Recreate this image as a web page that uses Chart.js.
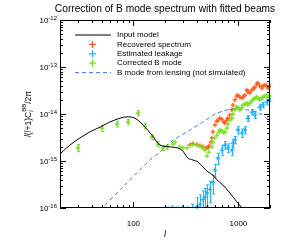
<!DOCTYPE html>
<html>
<head>
<meta charset="utf-8">
<script src="https://cdn.jsdelivr.net/npm/chart.js@4.4.0/dist/chart.umd.min.js"></script>
<style>
html, body { margin: 0; padding: 0; background: #fff; }
#wrap { width: 288px; height: 249px; }
</style>
</head>
<body>
<div id="wrap"><canvas id="chart" width="288" height="249"></canvas></div>
<script>
// Values (multipole l, l(l+1)C_l/2pi)
const modelL = [20, 24.9, 31, 38.6, 48.1, 59.8, 74.5, 86.3, 103.6, 123.4, 150.3, 179.1, 223.2, 290.2,
    331.2, 369.6, 412.2, 460.1, 513, 571.7, 624.3, 711.6, 829.4, 967.3, 1080, 1178];
const modelCl = [1.41e-15, 2.19e-15, 3.09e-15, 4.17e-15, 5.25e-15, 6.76e-15, 8.13e-15, 8.71e-15, 8.13e-15,
    5.89e-15, 3.55e-15, 2.19e-15, 2.0e-15, 1.70e-15, 1.15e-15, 1.05e-15, 9.55e-16, 7.41e-16, 5.89e-16,
    5.01e-16, 3.98e-16, 3.09e-16, 2.09e-16, 1.35e-16, 1.0e-16, 7.1e-17];

const lensL = [43.1, 50.3, 79.6, 143.8, 179.1, 213.6, 249.1, 346.1, 460.1, 597.5, 711.6, 967.3, 1204, 1499, 1790, 2000];
const lensCl = [7.1e-17, 1.0e-16, 2.82e-16, 1.05e-15, 1.55e-15, 2.29e-15, 2.95e-15, 4.57e-15, 6.76e-15,
    1.0e-14, 1.15e-14, 1.35e-14, 1.23e-14, 1.10e-14, 8.71e-15, 6.76e-15];

// binned corrected spectrum at low l (with error bars)
const binL = [29.6, 50.3, 69.8, 88.9, 110.6, 128.9, 150.3, 171.4, 191.4, 208.9];
const binCl = [1.91e-15, 5.01e-15, 6.17e-15, 6.76e-15, 1.05e-14, 5.50e-15, 3.24e-15, 2.29e-15, 1.91e-15, 2.0e-15];
const binErr = [3.2e-16, 7.5e-16, 8.5e-16, 9e-16, 1.3e-15, 7e-16, 4e-16, 2.8e-16, 2.2e-16, 2.2e-16];

const corrL = [238.5, 249.1, 277.7, 296.6, 324.1, 346.1, 369.6, 403.4, 430.8, 460.1, 480.7, 502, 524.2,
    559.5, 571.7, 597.5, 624.3, 652, 666.3, 696.3, 727.2, 743.1, 776.6, 793.6, 829.4, 866.7, 885.7,
    925.6, 967.3, 988.5, 1033, 1080, 1103, 1152, 1204, 1231, 1286, 1344, 1404, 1435, 1499, 1532,
    1600, 1672, 1715, 1790, 1871, 1913, 2000];
const corrCl = [2.29e-15, 2.51e-15, 2.0e-15, 1.91e-15, 1.91e-15, 2.14e-15, 2.24e-15, 2.14e-15, 2.04e-15,
    1.91e-15, 1.70e-15, 1.29e-15, 1.55e-15, 2.0e-15, 2.51e-15, 3.09e-15, 3.55e-15, 4.17e-15, 4.57e-15,
    4.37e-15, 3.98e-15, 4.17e-15, 5.01e-15, 6.17e-15, 7.41e-15, 8.13e-15, 1.0e-14, 1.23e-14, 1.41e-14,
    1.35e-14, 1.23e-14, 1.35e-14, 1.55e-14, 1.62e-14, 1.70e-14, 1.55e-14, 1.70e-14, 1.91e-14, 2.09e-14,
    2.19e-14, 2.29e-14, 2.19e-14, 2.0e-14, 2.19e-14, 2.29e-14, 2.40e-14, 2.51e-14, 2.29e-14, 2.40e-14];

const recL = [346.1, 369.6, 403.4, 430.8, 460.1, 491.3, 513, 524.2, 547.5, 559.5, 571.7, 597.5, 624.3,
    638, 666.3, 696.3, 727.2, 743.1, 776.6, 793.6, 829.4, 866.7, 885.7, 925.6, 967.3, 988.5, 1033,
    1080, 1128, 1152, 1204, 1231, 1286, 1344, 1404, 1435, 1499, 1532, 1600, 1672, 1715, 1790, 1871, 1913, 2000];
const recCl = [2.24e-15, 2.34e-15, 2.24e-15, 2.14e-15, 2.0e-15, 1.91e-15, 1.91e-15, 2.09e-15, 2.51e-15,
    3.09e-15, 4.17e-15, 5.89e-15, 7.08e-15, 7.41e-15, 8.13e-15, 7.76e-15, 6.76e-15, 6.46e-15, 7.41e-15,
    8.13e-15, 9.55e-15, 1.23e-14, 1.55e-14, 2.0e-14, 2.40e-14, 2.51e-14, 2.29e-14, 2.19e-14, 2.40e-14,
    2.51e-14, 3.24e-14, 2.95e-14, 2.82e-14, 3.24e-14, 3.55e-14, 3.72e-14, 4.37e-14, 4.57e-14, 3.98e-14,
    3.55e-14, 3.98e-14, 4.17e-14, 3.98e-14, 3.55e-14, 3.98e-14];

const leakL = [208.9, 233, 260, 290, 324, 362, 403.4, 430.8, 460.1, 480.7, 502, 535.7, 571.7, 597.5,
    638, 696.3, 743.1, 793.6, 866.7, 885.7, 925.6, 988.5, 1080, 1152, 1231, 1344, 1435, 1600, 1715, 1871, 2000];
const leakCl = [7e-17, 7.5e-17, 6.5e-17, 7.5e-17, 7e-17, 8e-17, 1.05e-16, 1.2e-16, 1.5e-16, 1.7e-16,
    2.1e-16, 2.5e-16, 3.5e-16, 6.5e-16, 1.15e-15, 1.7e-15, 2.19e-15, 1.91e-15, 1.70e-15, 2.40e-15,
    2.82e-15, 4.57e-15, 3.98e-15, 4.57e-15, 8.13e-15, 1.10e-14, 9.55e-15, 1.41e-14, 1.55e-14, 1.82e-14, 2.0e-14];
const leakErr = [3.5e-17, 3.5e-17, 4e-17, 3.5e-17, 3.5e-17, 4e-17, 6e-17, 7e-17, 8e-17, 9e-17, 1.0e-16, 1.2e-16,
    1.5e-16, 2e-16, 3e-16, 4e-16, 4e-16, 4e-16, 4e-16, 5e-16, 5e-16, 8e-16, 8e-16, 8e-16, 1.2e-15,
    1.5e-15, 1.5e-15, 2e-15, 2e-15, 2.5e-15, 2.5e-15];

const xTickLabels = ['100', '1000'];
const yTickExp = ['-12', '-13', '-14', '-15', '-16'];

const COLORS = {
    model: '#000000',
    rec: '#ff5a14',
    leak: '#1eb4ff',
    corr: '#78e01e',
    lens: '#3c78ff'
};
const FONT = "'Liberation Sans', Arial, sans-serif";

function pts(ls, vs) {
    return ls.map((l, i) => ({ x: l, y: vs[i] }));
}

/**
 * Error bars drawn through the chart scales
 */
const errorBars = {
    id: 'errorBars',
    beforeDatasetsDraw(chart) {
        const ctx = chart.ctx;
        const xs = chart.scales.x, ys = chart.scales.y;
        const area = chart.chartArea;
        ctx.save();
        ctx.beginPath();
        ctx.rect(area.left, area.top, area.right - area.left, area.bottom - area.top);
        ctx.clip();
        chart.data.datasets.forEach(ds => {
            if (!ds.errors) return;
            ctx.strokeStyle = ds.borderColor;
            ctx.lineWidth = 1;
            ds.data.forEach((p, i) => {
                const e = ds.errors[i];
                if (!e) return;
                const px = Math.round(xs.getPixelForValue(p.x)) + 0.5;
                const lo = p.y - e > 0 ? ys.getPixelForValue(p.y - e) : area.bottom + 5;
                const hi = ys.getPixelForValue(p.y + e);
                ctx.beginPath();
                ctx.moveTo(px, lo);
                ctx.lineTo(px, hi);
                ctx.moveTo(px - 1.5, lo);
                ctx.lineTo(px + 1.5, lo);
                ctx.moveTo(px - 1.5, hi);
                ctx.lineTo(px + 1.5, hi);
                ctx.stroke();
            });
        });
        ctx.restore();
    }
};

/**
 * Frame, inward ticks, tick labels, titles and legend
 */
const frame = {
    id: 'frame',
    afterDraw(chart) {
        const ctx = chart.ctx;
        const xs = chart.scales.x, ys = chart.scales.y;
        const a = chart.chartArea;
        ctx.save();
        ctx.strokeStyle = '#000';
        ctx.lineWidth = 1;
        ctx.strokeRect(a.left + 0.5, a.top + 0.5, a.right - a.left - 1, a.bottom - a.top - 1);

        ctx.beginPath();
        // x ticks
        for (let dec = 10; dec <= 1000; dec *= 10) {
            for (let m = 1; m <= 9; m++) {
                const v = dec * m;
                if (v < 20 || v > 2000) continue;
                const px = Math.round(xs.getPixelForValue(v)) + 0.5;
                const len = m === 1 ? 6 : 3;
                ctx.moveTo(px, a.bottom); ctx.lineTo(px, a.bottom - len);
                ctx.moveTo(px, a.top); ctx.lineTo(px, a.top + len);
            }
        }
        // y ticks
        for (let e = -16; e <= -13; e++) {
            for (let m = 1; m <= 9; m++) {
                const v = m * Math.pow(10, e);
                const py = Math.round(ys.getPixelForValue(v)) + 0.5;
                const len = m === 1 ? 6 : 3;
                ctx.moveTo(a.left, py); ctx.lineTo(a.left + len, py);
                ctx.moveTo(a.right, py); ctx.lineTo(a.right - len, py);
            }
        }
        ctx.stroke();

        ctx.fillStyle = '#000';
        // x tick labels
        ctx.font = '8px ' + FONT;
        ctx.textAlign = 'center';
        ctx.textBaseline = 'alphabetic';
        xTickLabels.forEach(t => {
            ctx.fillText(t, xs.getPixelForValue(Number(t)), a.bottom + 18);
        });
        // y tick labels with exponents
        yTickExp.forEach(t => {
            const py = ys.getPixelForValue(Math.pow(10, Number(t)));
            ctx.font = '6px ' + FONT;
            const w2 = ctx.measureText(t).width;
            ctx.textAlign = 'left';
            ctx.fillText(t, a.left - 3 - w2, py + 0);
            ctx.font = '8px ' + FONT;
            const w1 = ctx.measureText('10').width;
            ctx.fillText('10', a.left - 3 - w2 - w1, py + 3);
        });

        // title
        ctx.font = '10.2px ' + FONT;
        ctx.textAlign = 'center';
        ctx.fillText('Correction of B mode spectrum with fitted beams', (a.left + a.right) / 2, 12);

        // x title
        ctx.font = 'italic 9px ' + FONT;
        ctx.fillText('l', (a.left + a.right) / 2, a.bottom + 29);

        // y title, rotated
        const parts = [
            { t: 'l', f: 'italic 8.5px ' }, { t: '(', f: '8.5px ' }, { t: 'l', f: 'italic 8.5px ' },
            { t: '+1)C', f: '8.5px ' }, { t: 'l', f: 'italic 6px ', sub: true, pair: 'BB' }, { t: '/2\u03c0', f: '8.5px ' }
        ];
        ctx.save();
        ctx.translate(31, (a.top + a.bottom) / 2);
        ctx.rotate(-Math.PI / 2);
        ctx.textAlign = 'left';
        let total = 0;
        parts.forEach(p => {
            ctx.font = p.f + FONT;
            let w = ctx.measureText(p.t).width;
            if (p.pair) { ctx.font = '6px ' + FONT; w = Math.max(w, ctx.measureText(p.pair).width); }
            p.w = w;
            total += w;
        });
        let cx = -total / 2;
        parts.forEach(p => {
            ctx.font = p.f + FONT;
            if (p.sub) {
                ctx.fillText(p.t, cx, 2);
                ctx.font = '6px ' + FONT;
                ctx.fillText(p.pair, cx, -5);
            } else {
                ctx.fillText(p.t, cx, 0);
            }
            cx += p.w;
        });
        ctx.restore();

        // legend
        const rows = [
            { label: 'Input model', kind: 'line', color: COLORS.model },
            { label: 'Recovered spectrum', kind: 'cross', color: COLORS.rec },
            { label: 'Estimated leakage', kind: 'cross', color: COLORS.leak },
            { label: 'Corrected B mode', kind: 'cross', color: COLORS.corr },
            { label: 'B mode from lensing (not simulated)', kind: 'dash', color: COLORS.lens }
        ];
        ctx.font = '8px ' + FONT;
        ctx.textAlign = 'left';
        ctx.textBaseline = 'middle';
        rows.forEach((r, i) => {
            const y = 35 + i * 9.4;
            ctx.strokeStyle = r.color;
            ctx.beginPath();
            if (r.kind === 'cross') {
                ctx.lineWidth = 1.3;
                ctx.moveTo(89, y); ctx.lineTo(96, y);
                ctx.moveTo(92.5, y - 3.5); ctx.lineTo(92.5, y + 3.5);
            } else {
                ctx.lineWidth = r.kind === 'line' ? 1.2 : 1;
                ctx.setLineDash(r.kind === 'dash' ? [4, 3] : []);
                ctx.moveTo(75, y); ctx.lineTo(111, y);
            }
            ctx.stroke();
            ctx.setLineDash([]);
            ctx.fillStyle = '#000';
            ctx.fillText(r.label, 117, y);
        });
        ctx.restore();
    }
};

const crossStyle = {
    showLine: false,
    pointStyle: 'cross',
    pointRadius: 2.3,
    pointBorderWidth: 1.3,
    pointHoverRadius: 0,
    clip: 1
};

new Chart(document.getElementById('chart'), {
    type: 'scatter',
    data: {
        datasets: [
            {
                label: 'Input model',
                data: pts(modelL, modelCl),
                showLine: true,
                borderColor: COLORS.model,
                borderWidth: 1,
                pointRadius: 0,
                cubicInterpolationMode: 'monotone',
                order: 1,
                clip: 0
            },
            Object.assign({
                label: 'Corrected B mode',
                data: pts(binL.concat(corrL), binCl.concat(corrCl)),
                errors: binErr,
                borderColor: COLORS.corr,
                backgroundColor: COLORS.corr,
                order: 2
            }, crossStyle),
            Object.assign({
                label: 'Estimated leakage',
                data: pts(leakL, leakCl),
                errors: leakErr,
                borderColor: COLORS.leak,
                backgroundColor: COLORS.leak,
                order: 3
            }, crossStyle),
            Object.assign({
                label: 'Recovered spectrum',
                data: pts(recL, recCl),
                borderColor: COLORS.rec,
                backgroundColor: COLORS.rec,
                order: 4
            }, crossStyle),
            {
                label: 'B mode from lensing (not simulated)',
                data: pts(lensL, lensCl),
                showLine: true,
                borderColor: COLORS.lens,
                borderWidth: 1,
                borderDash: [4, 3],
                pointRadius: 0,
                tension: 0.3,
                order: 5,
                clip: 0
            }
        ]
    },
    options: {
        responsive: false,
        animation: false,
        layout: { padding: { left: 60, top: 20, right: 18, bottom: 41 } },
        plugins: {
            legend: { display: false },
            tooltip: { enabled: false }
        },
        scales: {
            x: { type: 'logarithmic', min: 20, max: 2000, display: false },
            y: { type: 'logarithmic', min: 1e-16, max: 1e-12, display: false }
        }
    },
    plugins: [errorBars, frame]
});
</script>
</body>
</html>
